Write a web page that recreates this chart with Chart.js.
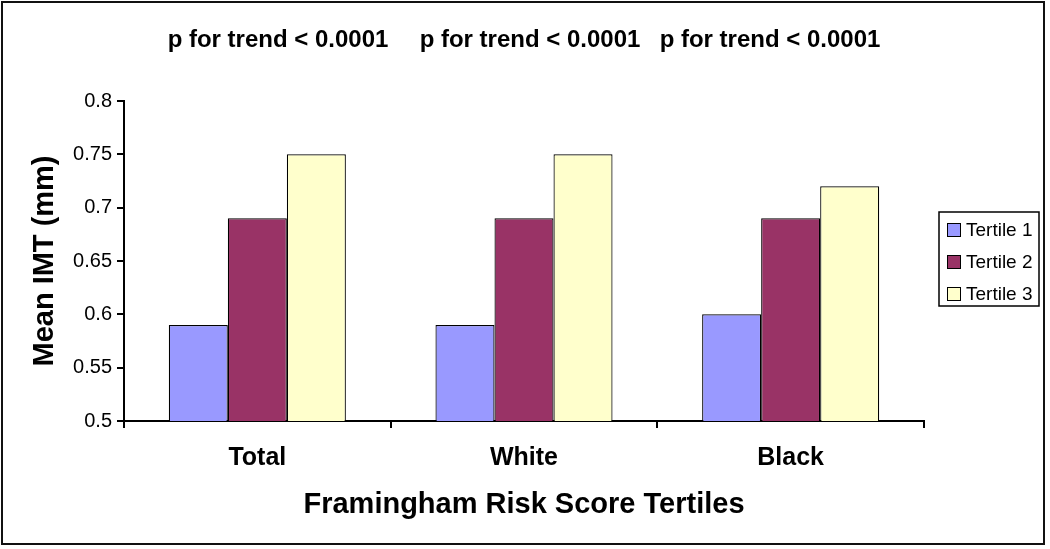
<!DOCTYPE html>
<html>
<head>
<meta charset="utf-8">
<script src="https://cdn.jsdelivr.net/npm/chart.js@4.4.0/dist/chart.umd.min.js"></script>
<style>
  body { margin:0; background:#fff; }
  #wrap { width:1050px; height:549px; }
</style>
</head>
<body>
<div id="wrap"><canvas id="chart"></canvas></div>
<script>
const categories = ['Total', 'White', 'Black'];
const seriesNames = ['Tertile 1', 'Tertile 2', 'Tertile 3'];
const tertile1 = [0.59, 0.59, 0.60];
const tertile2 = [0.69, 0.69, 0.69];
const tertile3 = [0.75, 0.75, 0.72];
const trendLabels = ['p for trend < 0.0001', 'p for trend < 0.0001', 'p for trend < 0.0001'];
const colors = ['#9999FF', '#993366', '#FFFFCC'];

const FONT = '"Liberation Sans", Arial, sans-serif';

// frame, p-values and boxed legend
const extras = {
  id: 'extras',
  afterDraw(chart) {
    const ctx = chart.ctx;
    ctx.save();
    // outer frame
    ctx.strokeStyle = '#111';
    ctx.lineWidth = 2;
    ctx.strokeRect(2, 2, 1042, 542);

    // p for trend texts
    ctx.fillStyle = '#000';
    ctx.font = 'bold 24px ' + FONT;
    ctx.textAlign = 'center';
    ctx.textBaseline = 'middle';
    const px = [278, 530, 770];
    trendLabels.forEach((t, i) => ctx.fillText(t, px[i], 40));

    // legend
    ctx.lineWidth = 1.5;
    ctx.strokeStyle = '#000';
    ctx.strokeRect(939, 212, 100, 94);
    ctx.font = '19px ' + FONT;
    ctx.textAlign = 'left';
    ctx.lineWidth = 1;
    chart.data.datasets.forEach((ds, i) => {
      const y = 230 + i * 32;
      ctx.fillStyle = ds.backgroundColor;
      ctx.fillRect(947.5, y - 6.5, 13, 13);
      ctx.strokeRect(947.5, y - 6.5, 13, 13);
      ctx.fillStyle = '#000';
      ctx.fillText(ds.label, 966, y + 1);
    });
    ctx.restore();
  }
};

new Chart(document.getElementById('chart'), {
  type: 'bar',
  data: {
    labels: categories,
    datasets: [
      { label: seriesNames[0], data: tertile1, backgroundColor: colors[0] },
      { label: seriesNames[1], data: tertile2, backgroundColor: colors[1] },
      { label: seriesNames[2], data: tertile3, backgroundColor: colors[2] }
    ].map(d => Object.assign(d, { borderColor: '#000', borderWidth: 1.2, categoryPercentage: 0.664, barPercentage: 1 }))
  },
  options: {
    responsive: true,
    maintainAspectRatio: false,
    animation: false,
    layout: { padding: { left: 0, top: 101, right: 126, bottom: 0 } },
    plugins: { legend: { display: false }, tooltip: { enabled: false } },
    scales: {
      x: {
        afterFit: s => { s.height = 128; },
        grid: { drawOnChartArea: false, drawTicks: true, tickLength: 7, color: '#000', lineWidth: 2 },
        border: { color: '#000', width: 2 },
        ticks: { color: '#000', padding: 15, font: { family: FONT, size: 25, weight: 'bold' } },
        title: { display: true, text: 'Framingham Risk Score Tertiles', color: '#000', padding: { top: 0, bottom: 27 }, font: { family: FONT, size: 29, weight: 'bold' } }
      },
      y: {
        min: 0.5, max: 0.8,
        afterFit: s => { s.width = 124; },
        grid: { drawOnChartArea: false, drawTicks: true, tickLength: 7, color: '#000', lineWidth: 2 },
        border: { color: '#000', width: 2 },
        ticks: { stepSize: 0.05, color: '#000', padding: 5, font: { family: FONT, size: 20 }, callback: v => String(+v.toFixed(2)) },
        title: { display: true, text: 'Mean IMT (mm)', color: '#000', padding: { top: 28, bottom: 0 }, font: { family: FONT, size: 29, weight: 'bold' } }
      }
    }
  },
  plugins: [extras]
});
</script>
</body>
</html>
